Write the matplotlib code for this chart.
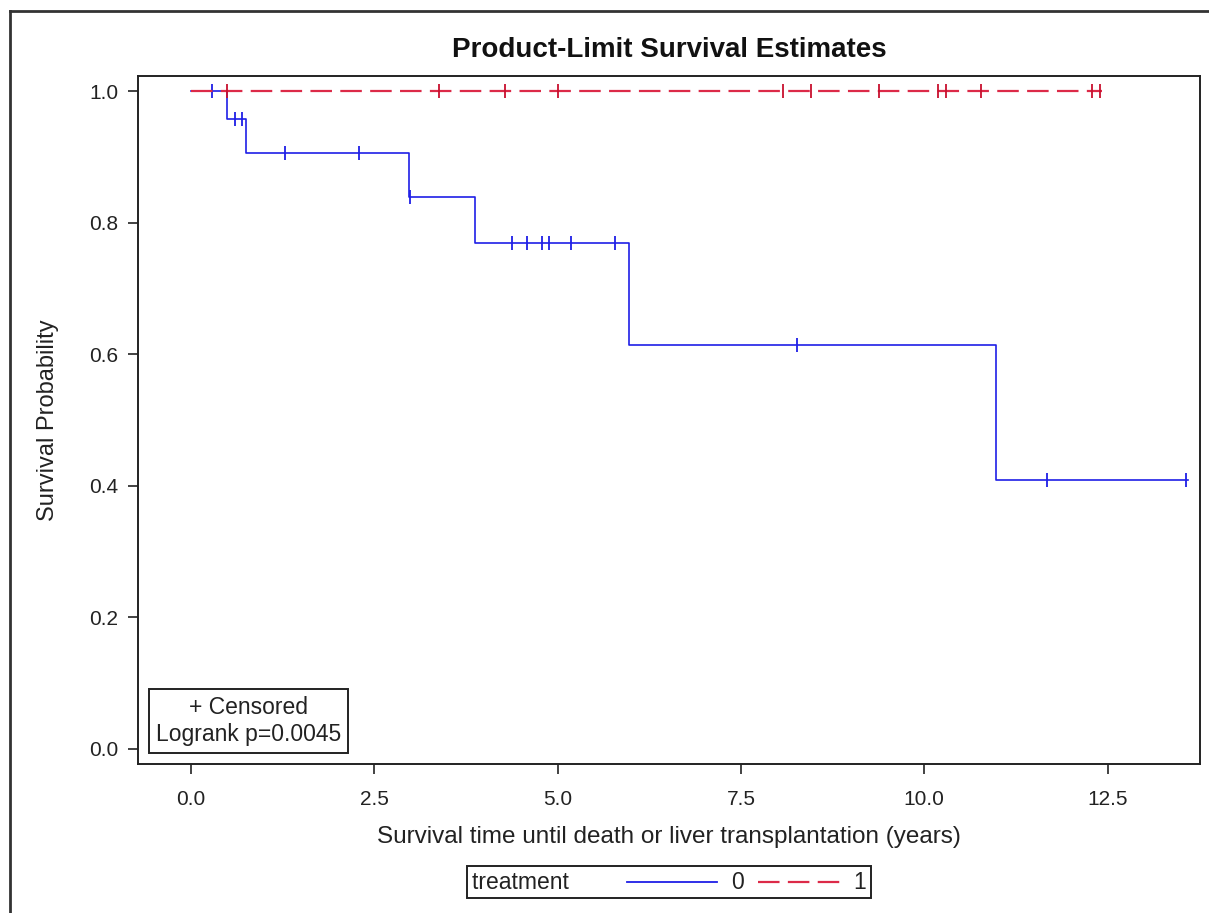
import numpy as np
import matplotlib
matplotlib.use("Agg")
import matplotlib.pyplot as plt
from matplotlib.lines import Line2D
from matplotlib.offsetbox import AnchoredOffsetbox, HPacker, TextArea, DrawingArea, AnchoredText

plt.rcParams['font.family'] = ['Liberation Sans', 'DejaVu Sans']
plt.rcParams['lines.scale_dashes'] = False

# ---- data ----
title = "Product-Limit Survival Estimates"
xlabel = "Survival time until death or liver transplantation (years)"
ylabel = "Survival Probability"
xticks = [0.0, 2.5, 5.0, 7.5, 10.0, 12.5]
yticks = [0.0, 0.2, 0.4, 0.6, 0.8, 1.0]

# treatment 0 (blue)
t0_event_times = [0.49, 0.75, 2.98, 3.88, 5.98, 10.98]
t0_event_surv = [0.957, 0.906, 0.839, 0.769, 0.614, 0.409]
t0_censor_times = [0.29, 0.60, 0.70, 1.29, 2.30, 2.99, 4.38, 4.58, 4.79,
                   4.89, 5.19, 5.78, 8.27, 11.68, 13.57]
t0_end = 13.60

# treatment 1 (red)
t1_event_times = []
t1_event_surv = []
t1_censor_times = [0.49, 3.39, 4.29, 5.00, 8.08, 8.46, 9.38, 10.19, 10.29,
                   10.78, 12.29, 12.39]
t1_end = 12.42

group_labels = ["0", "1"]
legend_title = "treatment"
inset_text = "+ Censored\nLogrank p=0.0045"

BLUE = "#1f1fe6"
RED = "#dc2a48"
TXT = '#222222'


def step_curve(ev_t, ev_s, end):
    t = [0.0] + list(ev_t) + [end]
    s = [1.0] + list(ev_s) + [ev_s[-1] if ev_s else 1.0]
    return np.array(t), np.array(s)


def surv_at(t_arr, s_arr, times):
    idx = np.searchsorted(t_arr, times, side='right') - 1
    return s_arr[np.clip(idx, 0, len(s_arr) - 1)]


fig = plt.figure(figsize=(12.09, 9.13), dpi=100)
ax = fig.add_axes([138 / 1209, 1 - 764 / 913, (1200 - 138) / 1209, (764 - 76) / 913])

# blue curve
tb, sb = step_curve(t0_event_times, t0_event_surv, t0_end)
ax.step(tb, sb, where='post', color=BLUE, lw=1.2)
ax.plot(t0_censor_times, surv_at(tb, sb, np.array(t0_censor_times)), ls='none',
        marker='|', ms=10, mew=1.3, color=BLUE)

# red curve
tr, sr = step_curve(t1_event_times, t1_event_surv, t1_end)
ax.step(tr, sr, where='post', color=RED, lw=1.6, dashes=(15.5, 6.0))
ax.plot(t1_censor_times, surv_at(tr, sr, np.array(t1_censor_times)), ls='none',
        marker='|', ms=10, mew=1.3, color='#c8102e')

ax.set_xlim(-0.72, 13.76)
ax.set_ylim(-0.023, 1.023)
ax.set_xticks(xticks)
ax.set_xticklabels([f"{v:.1f}" for v in xticks])
ax.set_yticks(yticks)
ax.set_yticklabels([f"{v:.1f}" for v in yticks])
ax.tick_params(axis='both', direction='out', length=7, width=1.2, labelsize=15, colors=TXT)
ax.tick_params(axis='x', pad=12)
ax.tick_params(axis='y', pad=7)
for sp in ax.spines.values():
    sp.set_linewidth(1.4)
    sp.set_color(TXT)

ax.set_title(title, fontsize=20, fontweight='bold', pad=14, color='#111111')
ax.set_xlabel(xlabel, fontsize=17.5, labelpad=12, color=TXT)
ax.set_ylabel(ylabel, fontsize=17, labelpad=22, color=TXT)

# inset with censor note and p-value
at = AnchoredText(inset_text, loc='lower left', prop=dict(size=16.5, multialignment='center', color=TXT),
                  frameon=True, pad=0.3, borderpad=0.5)
at.patch.set_edgecolor(TXT)
at.patch.set_linewidth(1.4)
ax.add_artist(at)

# legend at the bottom
def line_area(color, dashes=None, width=66, lw=1.3):
    da = DrawingArea(width, 10, 0, 0)
    ln = Line2D([0, width], [5, 5], color=color, lw=lw)
    if dashes is not None:
        ln.set_dashes(dashes)
    da.add_artist(ln)
    return da

items = [TextArea(legend_title + "       ", textprops=dict(size=16.5, color=TXT)),
         line_area(BLUE, width=65),
         TextArea(group_labels[0], textprops=dict(size=16.5, color=TXT)),
         line_area(RED, dashes=(15.5, 6.0), width=59, lw=1.6),
         TextArea(group_labels[1], textprops=dict(size=16.5, color=TXT))]
box = HPacker(children=items, align='center', pad=0, sep=10)
aob = AnchoredOffsetbox(loc='center', child=box, pad=0.35, frameon=True,
                        bbox_to_anchor=(669 / 1209, 1 - 882 / 913),
                        bbox_transform=fig.transFigure, borderpad=0)
aob.patch.set_edgecolor(TXT)
aob.patch.set_linewidth(1.4)
fig.add_artist(aob)

# outer frame (left and top edges)
fig.add_artist(Line2D([9.5 / 1209, 9.5 / 1209], [0, 1 - 11 / 913], transform=fig.transFigure,
                      color='#333333', lw=2))
fig.add_artist(Line2D([9.5 / 1209, 1.0], [1 - 11 / 913, 1 - 11 / 913], transform=fig.transFigure,
                      color='#333333', lw=2))

fig.savefig("out.png", dpi=100)
